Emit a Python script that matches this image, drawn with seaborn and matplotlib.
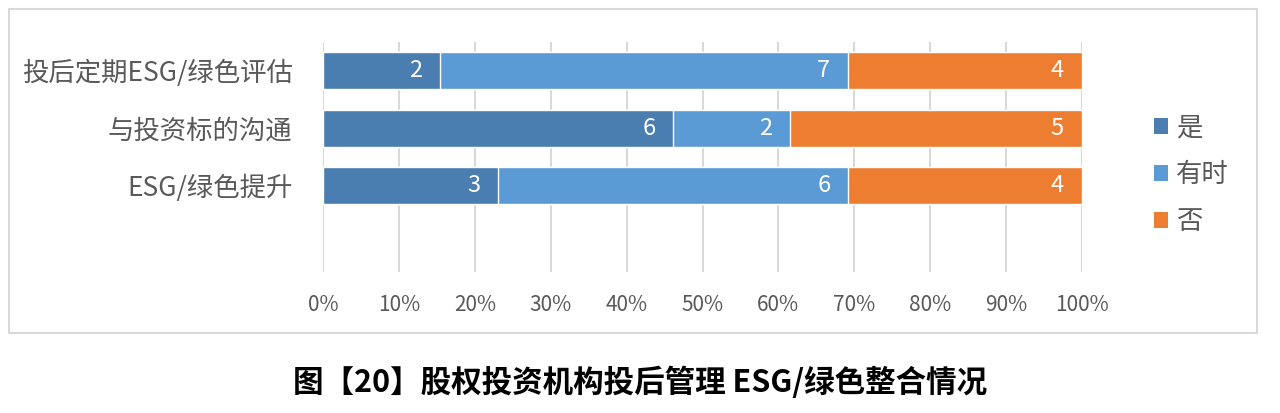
import numpy as np
import pandas as pd
import matplotlib
matplotlib.use("Agg")
import matplotlib.pyplot as plt
import seaborn as sns
from matplotlib.patches import Rectangle, Patch
from matplotlib.ticker import PercentFormatter

# Daten
categories = ["投后定期ESG/绿色评估", "与投资标的沟通", "ESG/绿色提升"]
series_names = ["是", "有时", "否"]
yes = [2, 6, 3]
sometimes = [7, 2, 6]
no = [4, 5, 4]
colors = ["#4a7eb0", "#5b9bd5", "#ed7d31"]

sns.set_theme(style="white")
plt.rcParams["font.family"] = ["Noto Sans CJK SC", "DejaVu Sans"]

df = pd.DataFrame({"cat": categories, "是": yes, "有时": sometimes, "否": no})
total = df[series_names].sum(axis=1)
# kumulierte Anteile fuer gestapelte Balken
cum = df[series_names].cumsum(axis=1).div(total, axis=0)

fig = plt.figure(figsize=(12.8, 4.13), dpi=100)
ax = fig.add_axes([323 / 1280, 1 - 272 / 413, (1082 - 323) / 1280, 230 / 413])

# von hinten nach vorne zeichnen
for name, col in reversed(list(zip(series_names, colors))):
    sns.barplot(x=cum[name], y=df["cat"], orient="h", color=col, width=0.64,
                edgecolor="white", linewidth=1, saturation=1, ax=ax, zorder=3)

# Werte innen am Ende des Segments
for name in series_names:
    for i, cat in enumerate(categories):
        ax.annotate(str(df.loc[i, name]), xy=(cum.loc[i, name], i), xytext=(-13, 0),
                    textcoords="offset points", ha="right", va="center",
                    color="white", fontsize=17, zorder=5)

ax.set_xlim(0, 1)
ax.set_ylim(3.5, -0.5)
ax.xaxis.set_major_locator(plt.MultipleLocator(0.1))
ax.xaxis.set_major_formatter(PercentFormatter(1.0, decimals=0))
ax.grid(axis="x", color="#d9d9d9", linewidth=1.5, zorder=0)
ax.grid(axis="y", visible=False)
ax.set_axisbelow(True)
for s in ax.spines.values():
    s.set_visible(False)
ax.tick_params(axis="x", length=0, pad=16, labelsize=15, labelcolor="#595959")
ax.tick_params(axis="y", length=0, pad=22, labelsize=19, labelcolor="#595959")
ax.set_xlabel("")
ax.set_ylabel("")

handles = [Patch(facecolor=c, edgecolor="none") for c in colors]
leg = ax.legend(handles, series_names, loc="center left",
                bbox_to_anchor=(1130 / 1280, 1 - 175 / 413), bbox_transform=fig.transFigure,
                frameon=False, fontsize=19, handlelength=0.55, handleheight=0.55,
                handletextpad=0.3, labelspacing=0.75)
for t in leg.get_texts():
    t.set_color("#595959")

# Rahmen
fig.patches.append(Rectangle((9 / 1280, 1 - 333 / 413), (1257 - 9) / 1280, 324 / 413,
                             transform=fig.transFigure, fill=False, edgecolor="#d9d9d9",
                             linewidth=1.5))

fig.text(0.5, 1 - 383 / 413, "图【20】股权投资机构投后管理 ESG/绿色整合情况",
         ha="center", va="center", fontsize=22, fontweight="semibold", color="black")

fig.savefig("out.png", dpi=100)
